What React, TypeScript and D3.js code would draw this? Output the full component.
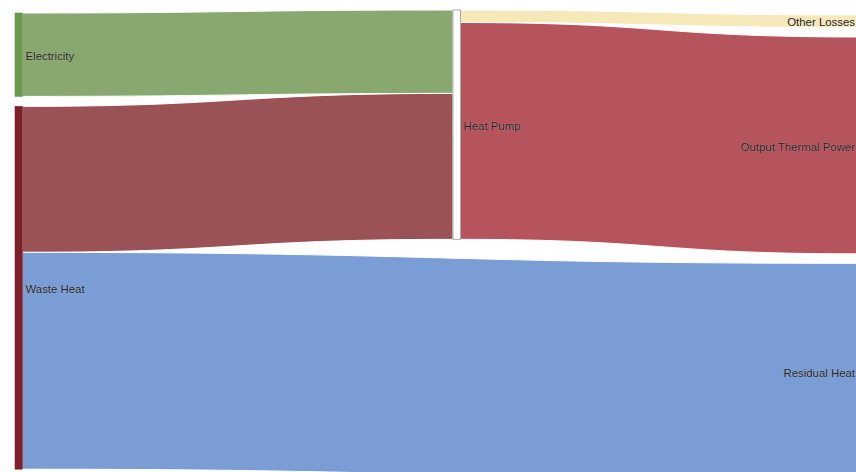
import React from 'react';
import * as d3 from 'd3';

// sankey data
const nodeNames = ['Electricity', 'Waste Heat', 'Heat Pump', 'Other Losses', 'Output Thermal Power', 'Residual Heat'];
const nodeColumn = [0, 0, 1, 2, 2, 2];
const nodeColors = ['#6a9a4e', '#7e1f2a', '#ffffff', '#f0dfa0', '#b04d57', '#6f93cf'];

const linkSource = [0, 1, 1, 2, 2];
const linkTarget = [2, 2, 5, 3, 4];
const linkValue = [20, 35, 52, 3, 52];
const linkColors = ['#88a870', '#9b5257', '#7b9dd5', '#f5e8b9', '#b5545d'];

const W = 856;
const H = 472;
// column layout: left edge, top offset, padding between nodes
const colX = [15, 453, 858];
const colTop = [13, 10, 15];
const colPad = [10, 10, 9.5];
const nodeWidth = 7.5;

export default function App() {
  const k = d3.scaleLinear().domain([0, 1]).range([0, 4.17]);

  const nodes = nodeNames.map((name, i) => {
    const inSum = d3.sum(linkValue.filter((_, j) => linkTarget[j] === i));
    const outSum = d3.sum(linkValue.filter((_, j) => linkSource[j] === i));
    return { name, i, col: nodeColumn[i], value: Math.max(inSum, outSum), x0: 0, x1: 0, y0: 0, y1: 0 };
  });

  // stack nodes inside each column
  d3.range(3).forEach(c => {
    let y = colTop[c];
    nodes.filter(n => n.col === c).forEach(n => {
      n.x0 = colX[c];
      n.x1 = colX[c] + nodeWidth;
      n.y0 = y;
      n.y1 = y + k(n.value);
      y = n.y1 + colPad[c];
    });
  });

  const links = linkValue.map((v, j) => ({
    j, v, s: nodes[linkSource[j]], t: nodes[linkTarget[j]], sy: 0, ty: 0,
  }));

  // link offsets at source and target
  nodes.forEach(n => {
    let y = n.y0;
    links.filter(l => l.s === n).sort((a, b) => a.t.y0 - b.t.y0).forEach(l => { l.sy = y; y += k(l.v); });
    y = n.y0;
    links.filter(l => l.t === n).sort((a, b) => a.s.y0 - b.s.y0).forEach(l => { l.ty = y; y += k(l.v); });
  });

  const linkPath = (l: any) => {
    const x0 = l.s.x1, x1 = l.t.x0, xm = (x0 + x1) / 2, w = k(l.v);
    const p = d3.path();
    p.moveTo(x0, l.sy);
    p.bezierCurveTo(xm, l.sy, xm, l.ty, x1, l.ty);
    p.lineTo(x1, l.ty + w);
    p.bezierCurveTo(xm, l.ty + w, xm, l.sy + w, x0, l.sy + w);
    p.closePath();
    return p.toString();
  };

  const halo = '0 0 1px rgba(255,255,255,0.5)';

  return (
    <svg width={W} height={H} style={{ position: 'absolute', left: 0, top: 0, background: '#fff' }}
      fontFamily="'Liberation Sans', Arial, sans-serif">
      <g className="links">
        {links.map(l => (
          <path key={l.j} d={linkPath(l)} fill={linkColors[l.j]} stroke="#fff" strokeWidth={1} />
        ))}
      </g>
      <g className="nodes">
        {nodes.map(n => (
          <rect key={n.i} x={n.x0} y={n.y0} width={n.x1 - n.x0} height={n.y1 - n.y0}
            fill={nodeColors[n.i]} stroke={n.i === 2 ? '#aaa' : d3.color(nodeColors[n.i])!.darker(0.4).toString()}
            strokeWidth={n.i === 2 ? 1 : 0.5} />
        ))}
      </g>
      <g className="labels">
        {nodes.map(n => {
          const last = n.col === 2;
          return (
            <text key={n.i} x={last ? n.x0 - 3 : n.x1 + 3} y={(n.y0 + n.y1) / 2} dy="0.45em"
              textAnchor={last ? 'end' : 'start'} fontSize={11.4} fill="#222" style={{ textShadow: halo }}>
              {n.name}
            </text>
          );
        })}
      </g>
    </svg>
  );
}
